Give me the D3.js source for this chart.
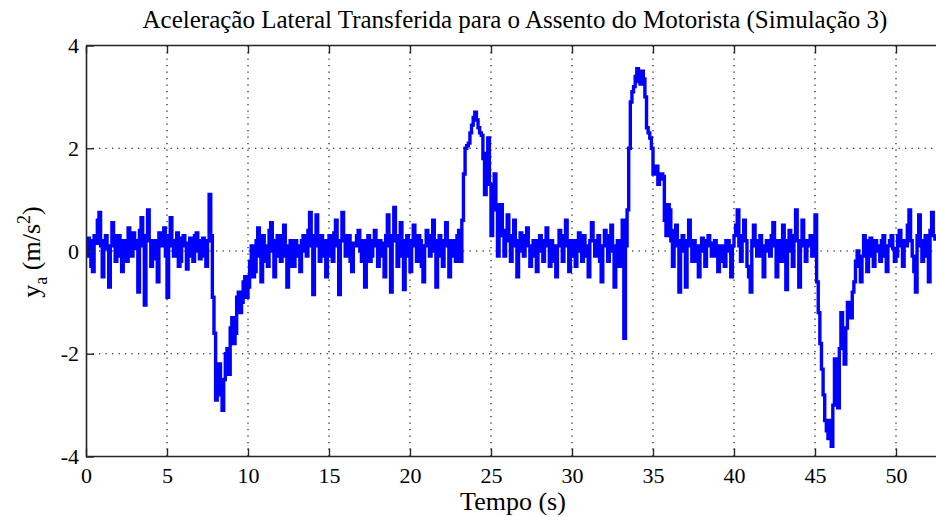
<!DOCTYPE html>
<html>
<head>
<meta charset="utf-8">
<script src="https://cdn.jsdelivr.net/npm/d3@7"></script>
<style>
  html, body { margin: 0; padding: 0; background: #fff; }
  svg { display: block; }
  text { font-family: "Liberation Serif", "Times New Roman", serif; fill: #000; }
</style>
</head>
<body>
<svg id="chart" width="936" height="517"></svg>
<script>
// Lateral acceleration at the driver's seat, sampled every 0.1 s (zero-order hold).
// One row per second of simulation.
const sampleStep = 0.1;
const accel = [
  -0.1, 0.25, 0.2, -0.3, -0.4, 0.3, 0.15, 0.6, 0.75, 0.1,
  -0.5, 0.2, 0.3, 0.05, -0.7, 0.1, 0.55, 0.3, -0.2, 0.15,
  0.3, -0.1, -0.4, 0.2, 0.1, -0.2, 0.45, 0.2, -0.1, 0.35,
  0.2, 0.05, -0.8, 0.4, 0.65, 0.1, -1.05, 0.3, 0.8, 0.2,
  -0.3, 0.1, 0.2, -0.15, -0.6, 0.35, 0.1, 0.2, 0.45, -0.1,
  -0.9, 0.3, 0.65, 0.1, -0.1, 0.2, 0.35, -0.3, -0.2, 0.25,
  0.3, 0.1, -0.35, 0.15, 0.25, -0.1, -0.2, 0.3, 0.35, 0.0,
  -0.15, 0.2, 0.25, -0.1, -0.3, 0.2, 1.1, 0.3, -0.9, -1.6,
  -2.9, -2.5, -2.2, -2.8, -3.1, -2.5, -2.0, -1.9, -2.4, -1.5,
  -1.3, -1.8, -1.6, -0.9, -0.8, -1.2, -1.0, -0.6, -0.5, -0.9,
  -0.7, -0.2, 0.1, -0.5, -0.4, 0.2, 0.45, -0.1, -0.6, 0.3,
  0.1, -0.2, -0.3, 0.4, 0.55, 0.0, -0.5, 0.2, 0.3, -0.1,
  -0.2, 0.3, 0.5, -0.1, -0.7, 0.1, 0.2, -0.3, -0.3, 0.2,
  0.1, -0.1, -0.4, 0.2, 0.3, 0.0, -0.1, 0.4, 0.75, 0.1,
  -0.85, 0.3, 0.7, 0.1, -0.2, 0.3, 0.2, -0.1, -0.5, 0.2,
  0.3, -0.1, -0.2, 0.35, 0.6, 0.1, -0.85, 0.2, 0.75, 0.3,
  -0.1, 0.2, 0.3, -0.2, -0.4, 0.15, 0.1, 0.3, 0.4, 0.0,
  -0.2, 0.2, -0.7, 0.1, 0.3, -0.2, -0.1, 0.2, 0.4, 0.1,
  -0.3, 0.2, 0.15, -0.1, -0.5, 0.3, 0.7, 0.1, -0.8, 0.3,
  0.85, 0.2, -0.3, 0.3, 0.55, -0.1, -0.75, 0.2, 0.3, -0.1,
  -0.4, 0.2, 0.5, 0.1, -0.2, 0.3, 0.2, -0.3, -0.6, 0.1,
  0.4, 0.1, -0.1, 0.3, 0.6, 0.0, -0.7, 0.2, 0.3, -0.1,
  -0.3, 0.2, 0.55, 0.1, -0.5, 0.2, 0.2, -0.1, -0.2, 0.3,
  0.4, -0.2, 0.6, 1.5, 2.0, 2.05, 2.1, 2.3, 2.45, 2.6,
  2.7, 2.55, 2.4, 2.3, 2.25, 1.8, 1.1, 1.9, 2.2, 1.3,
  0.3, 0.8, 1.5, 0.9, -0.1, 0.5, 0.9, 0.3, -0.1, 0.4,
  0.7, 0.2, -0.2, 0.3, 0.6, 0.1, -0.5, 0.2, 0.35, 0.0,
  -0.1, 0.3, 0.45, 0.1, -0.3, 0.1, 0.2, -0.1, -0.4, 0.2,
  0.3, 0.0, -0.2, 0.2, 0.45, 0.1, -0.3, 0.2, 0.1, -0.2,
  -0.5, 0.1, 0.4, 0.2, -0.2, 0.3, 0.6, 0.1, -0.4, 0.2,
  0.2, -0.1, -0.3, 0.2, 0.35, 0.0, -0.2, 0.3, 0.1, -0.1,
  -0.5, 0.2, 0.55, 0.2, -0.1, 0.1, 0.3, -0.2, -0.6, 0.1,
  0.4, 0.1, -0.2, 0.3, 0.5, 0.0, -0.7, 0.1, 0.2, -0.3,
  -0.1, 0.6, -1.7, 0.1, 0.8, 2.0, 2.9, 3.1, 3.2, 3.4,
  3.55, 3.3, 3.25, 3.5, 3.35, 3.0, 2.4, 2.3, 2.2, 2.0,
  1.5, 1.6, 1.65, 1.3, 1.4, 1.5, 1.45, 0.6, 0.3, 0.9,
  0.8, 0.2, -0.3, 0.4, 0.5, 0.1, -0.8, 0.2, 0.3, 0.0,
  -0.7, 0.2, 0.6, 0.1, -0.2, 0.2, 0.1, -0.2, -0.5, 0.1,
  0.25, 0.0, -0.3, 0.2, 0.3, 0.1, -0.1, 0.15, 0.2, -0.1,
  -0.4, 0.1, 0.1, -0.2, -0.3, 0.2, 0.2, 0.0, -0.5, 0.1,
  0.3, 0.5, 0.8, 0.1, -0.2, 0.3, 0.6, 0.2, -0.3, -0.5,
  -0.8, 0.2, 0.5, 0.1, -0.1, 0.2, 0.3, -0.1, -0.5, 0.1,
  0.2, 0.0, -0.1, 0.3, 0.55, 0.1, -0.5, 0.2, 0.1, -0.2,
  0.5, 0.1, -0.75, 0.2, 0.4, 0.0, -0.3, 0.3, 0.8, 0.2,
  -0.7, 0.1, 0.6, 0.2, -0.2, 0.1, 0.2, 0.3, -0.1, 0.2,
  0.7, -0.6, -1.2, -1.8, -2.3, -2.8, -3.3, -3.5, -3.65, -3.3,
  -3.8, -3.0, -2.1, -2.6, -3.05, -1.9, -1.2, -1.8, -2.2, -1.5,
  -1.0, -1.1, -1.3, -0.8, -0.6, -0.2, 0.0, -0.3, -0.6, -0.1,
  0.3, 0.1, -0.4, 0.2, 0.25, -0.1, -0.3, 0.2, 0.1, 0.0,
  -0.2, 0.2, 0.3, -0.1, -0.4, 0.1, 0.2, 0.3, 0.05, -0.2,
  -0.1, 0.3, 0.4, 0.1, -0.3, 0.2, 0.1, 0.5, 0.8, 0.2,
  -0.1, -0.4, -0.8, 0.3, 0.7, 0.1, -0.2, 0.2, 0.3, -0.1,
  -0.6, 0.4, 0.75, 0.3, 0.2
];
const xTicks = [0, 5, 10, 15, 20, 25, 30, 35, 40, 45, 50];
const yTicks = [-4, -2, 0, 2, 4];
const titleText = "Aceleração Lateral Transferida para o Assento do Motorista (Simulação 3)";
const xLabelText = "Tempo (s)";

const samples = accel.map((v, i) => ({ t: i * sampleStep, v }));

const svg = d3.select("#chart");
const margin = { left: 86, top: 45.5, bottom: 456.5 };
const pxPerSecond = 16.2;
const xMax = 55;

const x = d3.scaleLinear().domain([0, xMax]).range([margin.left, margin.left + xMax * pxPerSecond]);
const y = d3.scaleLinear().domain([-4, 4]).range([margin.bottom, margin.top]);

svg.append("defs").append("clipPath").attr("id", "plotClip")
  .append("rect").attr("x", margin.left).attr("y", margin.top - 2)
  .attr("width", 936 - margin.left).attr("height", margin.bottom - margin.top + 4);

// dotted grid
const grid = svg.append("g").attr("stroke", "#000").attr("stroke-width", 1.1)
  .attr("stroke-dasharray", "1.3,5.2");
grid.selectAll("line.gx").data(xTicks.filter(d => d > 0)).join("line")
  .attr("x1", d => x(d)).attr("x2", d => x(d))
  .attr("y1", margin.top).attr("y2", margin.bottom);
grid.selectAll("line.gy").data(yTicks.filter(d => d > -4 && d < 4)).join("line")
  .attr("x1", margin.left).attr("x2", 936)
  .attr("y1", d => y(d)).attr("y2", d => y(d));

// signal
const line = d3.line().x(d => x(d.t)).y(d => y(d.v)).curve(d3.curveStepAfter);
svg.append("path").datum(samples)
  .attr("clip-path", "url(#plotClip)")
  .attr("fill", "none").attr("stroke", "#0000ff").attr("stroke-width", 3.4)
  .attr("stroke-linejoin", "miter").attr("d", line);

// axes (ticks point inward); plain hyphen for negative labels
const plainFormat = d => String(d);
const axisColor = "#262626";
const bottomAxis = svg.append("g").attr("transform", `translate(0,${margin.bottom})`)
  .call(d3.axisBottom(x).tickValues(xTicks).tickSizeInner(-8).tickSizeOuter(0).tickPadding(11).tickFormat(plainFormat));
const topAxis = svg.append("g").attr("transform", `translate(0,${margin.top})`)
  .call(d3.axisTop(x).tickValues(xTicks).tickSizeInner(-8).tickSizeOuter(0).tickFormat(""));
const leftAxis = svg.append("g").attr("transform", `translate(${margin.left},0)`)
  .call(d3.axisLeft(y).tickValues(yTicks).tickSizeInner(-8).tickSizeOuter(0).tickPadding(7).tickFormat(plainFormat));

[bottomAxis, topAxis, leftAxis].forEach(g => {
  g.select(".domain").attr("stroke", axisColor).attr("stroke-width", 1.6);
  g.selectAll(".tick line").attr("stroke", axisColor).attr("stroke-width", 1.4);
  g.selectAll(".tick text").attr("font-family", "Liberation Serif").attr("font-size", 22).attr("fill", "#000");
});
topAxis.select(".domain").attr("d", `M${margin.left},0H936`);
bottomAxis.select(".domain").attr("d", `M${margin.left},0H936`);

// title and axis labels
svg.append("text").attr("x", 515).attr("y", 28).attr("text-anchor", "middle")
  .attr("font-size", 25).text(titleText);

svg.append("text").attr("x", 513).attr("y", 510).attr("text-anchor", "middle")
  .attr("font-size", 26).text(xLabelText);

const yl = svg.append("text").attr("transform", "translate(40,252) rotate(-90)")
  .attr("text-anchor", "middle").attr("font-size", 26);
yl.append("tspan").text("y");
yl.append("tspan").attr("font-size", 18).attr("dy", 7).text("a");
yl.append("tspan").attr("dy", -7).text(" (m/s");
yl.append("tspan").attr("font-size", 18).attr("dy", -10).text("2");
yl.append("tspan").attr("dy", 10).text(")");
</script>
</body>
</html>
